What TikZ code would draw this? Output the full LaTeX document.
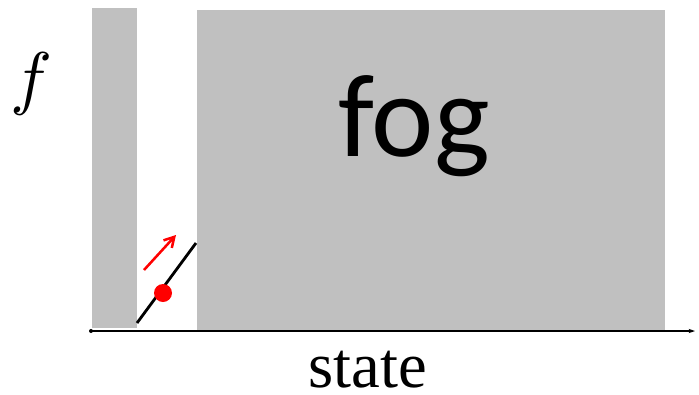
\documentclass[tikz,border=0pt]{standalone}
\usepackage{fontspec}
\newfontfamily\calib{Carlito}
\newfontfamily\timesf{Liberation Serif}
\usetikzlibrary{arrows.meta}
\definecolor{foggray}{RGB}{192,192,192}
\begin{document}
\begin{tikzpicture}[x=0.05cm,y=-0.05cm,
  fogbox/.style={fill=foggray,draw=none},
  axisline/.style={line width=3.6pt,black},
  label/.style={inner sep=0pt,anchor=base}]
\useasboundingbox (0,0) rectangle (699,394);
% gray regions
\fill[foggray] (92,8) rectangle (137,328);
\fill[foggray] (197,10) rectangle (665,330);
% axis
\coordinate (o) at (91,331);
\coordinate (xend) at (695,331);
\draw[axisline,-{Stealth[length=9pt,width=6pt]}] (o) -- (xend);
\fill (o) circle (2);
% black segment
\coordinate (s1) at (137,323);
\coordinate (s2) at (196,243);
\draw[line width=4pt] (s1) -- (s2);
% red dot and arrow
\fill[red] (163,293) circle (9);
\coordinate (a1) at (144,270);
\coordinate (a2) at (176,235);
\draw[red,line width=3.6pt,-{Straight Barb[length=14pt,width=16pt]}] (a1) -- (a2);
% labels
\node[label] (fog) at (414,156) {\fontsize{168}{168}\selectfont\calib fog};
\node[label] (state) at (368,387) {\fontsize{92}{92}\selectfont\timesf state};
\node[label,scale=10] (f) at (31,101) {$f$};
\end{tikzpicture}
\end{document}
